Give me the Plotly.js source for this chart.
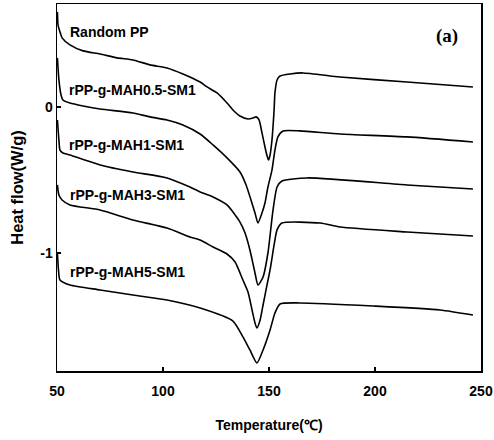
<!DOCTYPE html>
<html>
<head>
<meta charset="utf-8">
<script src="https://cdn.plot.ly/plotly-3.0.1.min.js"></script>
<style>
  html, body { margin: 0; padding: 0; background: #fff; }
  #chart { width: 494px; height: 440px; }
</style>
</head>
<body>
<div id="chart"></div>
<script>
// DSC heating curves (heat flow vs temperature), curves offset vertically
const tempRandomPP = [50.2, 50.5, 51.4, 52.4, 56.1, 62.3, 70.3, 78.3, 85.8, 93.9, 101.9, 109.4, 117.5, 120.8, 125.5, 130.2, 133.0, 136.3, 140.1, 142.5, 143.9, 145.3, 146.7, 148.1, 149.1, 149.8, 150.5, 151.4, 152.4, 152.8, 153.8, 155.2, 159.9, 166.0, 183.5, 215.1, 246.2];
const flowRandomPP = [0.651, 0.560, 0.514, 0.473, 0.425, 0.384, 0.363, 0.336, 0.322, 0.288, 0.267, 0.226, 0.171, 0.137, 0.096, 0.027, -0.021, -0.062, -0.082, -0.075, -0.068, -0.089, -0.178, -0.274, -0.336, -0.363, -0.329, -0.226, -0.021, 0.096, 0.185, 0.212, 0.226, 0.233, 0.205, 0.171, 0.137];

const tempMAH05 = [50.2, 50.9, 51.9, 52.8, 56.1, 62.3, 70.3, 85.8, 93.9, 101.9, 109.4, 117.5, 123.6, 130.2, 136.3, 139.2, 141.5, 143.4, 144.8, 146.7, 148.1, 149.5, 151.4, 152.8, 154.2, 156.6, 164.6, 183.5, 215.1, 246.2];
const flowMAH05 = [0.336, 0.185, 0.082, 0.048, 0.027, 0.007, -0.014, -0.041, -0.068, -0.089, -0.123, -0.185, -0.260, -0.349, -0.445, -0.534, -0.637, -0.726, -0.795, -0.726, -0.658, -0.548, -0.432, -0.295, -0.205, -0.164, -0.164, -0.185, -0.205, -0.240];

const tempMAH1 = [50.2, 50.9, 51.4, 52.8, 56.1, 70.3, 85.8, 101.9, 112.7, 117.5, 123.6, 130.2, 136.3, 138.7, 141.0, 143.4, 144.8, 147.2, 149.5, 151.9, 153.8, 156.1, 167.9, 215.1, 246.2];
const flowMAH1 = [-0.089, -0.226, -0.295, -0.315, -0.329, -0.397, -0.445, -0.486, -0.548, -0.582, -0.616, -0.671, -0.788, -0.863, -0.979, -1.137, -1.219, -1.164, -1.000, -0.705, -0.548, -0.507, -0.486, -0.534, -0.562];

const tempMAH3 = [50.2, 50.9, 52.4, 56.1, 70.3, 85.8, 101.9, 112.7, 117.5, 123.6, 130.2, 134.0, 137.7, 140.1, 142.0, 143.4, 144.3, 145.8, 147.2, 148.6, 150.5, 152.4, 153.8, 156.1, 174.1, 183.5, 215.1, 246.2];
const flowMAH3 = [-0.534, -0.603, -0.637, -0.671, -0.705, -0.774, -0.829, -0.890, -0.911, -0.959, -1.007, -1.062, -1.185, -1.267, -1.390, -1.479, -1.514, -1.459, -1.356, -1.253, -1.116, -0.945, -0.842, -0.795, -0.795, -0.822, -0.856, -0.884];

const tempMAH5 = [50.2, 50.7, 51.4, 56.1, 70.3, 85.8, 101.9, 117.5, 133.0, 137.7, 141.0, 144.3, 147.2, 150.5, 152.8, 155.2, 164.6, 199.1, 230.7, 246.2];
const flowMAH5 = [-1.000, -1.116, -1.185, -1.219, -1.253, -1.288, -1.322, -1.377, -1.466, -1.575, -1.664, -1.753, -1.664, -1.527, -1.411, -1.349, -1.342, -1.363, -1.390, -1.425];

const sampleNames = ['Random PP', 'rPP-g-MAH0.5-SM1', 'rPP-g-MAH1-SM1', 'rPP-g-MAH3-SM1', 'rPP-g-MAH5-SM1'];
const labelX = [55.2, 54.7, 54.7, 55.2, 55.2];
const labelY = [0.514, 0.116, -0.260, -0.603, -1.130];

const xTicks = [50, 100, 150, 200, 250];
const yTicks = [-1, 0];

const series = [
  [tempRandomPP, flowRandomPP],
  [tempMAH05, flowMAH05],
  [tempMAH1, flowMAH1],
  [tempMAH3, flowMAH3],
  [tempMAH5, flowMAH5]
];

const traces = series.map((s, i) => ({
  x: s[0],
  y: s[1],
  name: sampleNames[i],
  type: 'scatter',
  mode: 'lines',
  line: { color: '#000', width: 1.6, shape: 'spline', smoothing: 0.6 },
  showlegend: false
}));

const sansFamily = 'Liberation Sans, Arial, sans-serif';
const boldSans = { family: sansFamily, size: 14, color: '#000', weight: 'bold' };

const annotations = sampleNames.map((name, i) => ({
  x: labelX[i], y: labelY[i], xref: 'x', yref: 'y',
  text: '<b>' + name + '</b>',
  showarrow: false, xanchor: 'left', yanchor: 'middle',
  font: { family: sansFamily, size: 14, color: '#000' }
}));
annotations.push({
  x: 234, y: 0.486, xref: 'x', yref: 'y',
  text: '<b>(a)</b>', showarrow: false, xanchor: 'center', yanchor: 'middle',
  font: { family: 'Liberation Serif, Times New Roman, serif', size: 19, color: '#000' }
});

const layout = {
  width: 494, height: 440,
  margin: { l: 57, r: 13, t: 4, b: 69 },
  paper_bgcolor: '#fff', plot_bgcolor: '#fff',
  xaxis: {
    range: [50, 250], tickvals: xTicks, ticktext: xTicks.map(String),
    ticks: 'inside', ticklen: 4, tickwidth: 1.2, tickcolor: '#000',
    showline: true, linecolor: '#000', linewidth: 1.5, mirror: true,
    showgrid: false, zeroline: false,
    tickfont: boldSans, ticklabelstandoff: 7,
    title: { text: '<b>Temperature(℃)</b>', font: { family: sansFamily, size: 14, color: '#000' }, standoff: 22 }
  },
  yaxis: {
    range: [-1.808, 0.705], tickvals: yTicks, ticktext: yTicks.map(String),
    ticks: 'inside', ticklen: 4, tickwidth: 1.2, tickcolor: '#000',
    showline: true, linecolor: '#000', linewidth: 1.5, mirror: true,
    showgrid: false, zeroline: false,
    tickfont: boldSans, ticklabelstandoff: 0,
    title: { text: '<b>Heat flow(W/g)</b>', font: { family: sansFamily, size: 16.5, color: '#000' }, standoff: 12 }
  },
  annotations: annotations,
  showlegend: false
};

Plotly.newPlot('chart', traces, layout, { displayModeBar: false, staticPlot: true });
</script>
</body>
</html>
